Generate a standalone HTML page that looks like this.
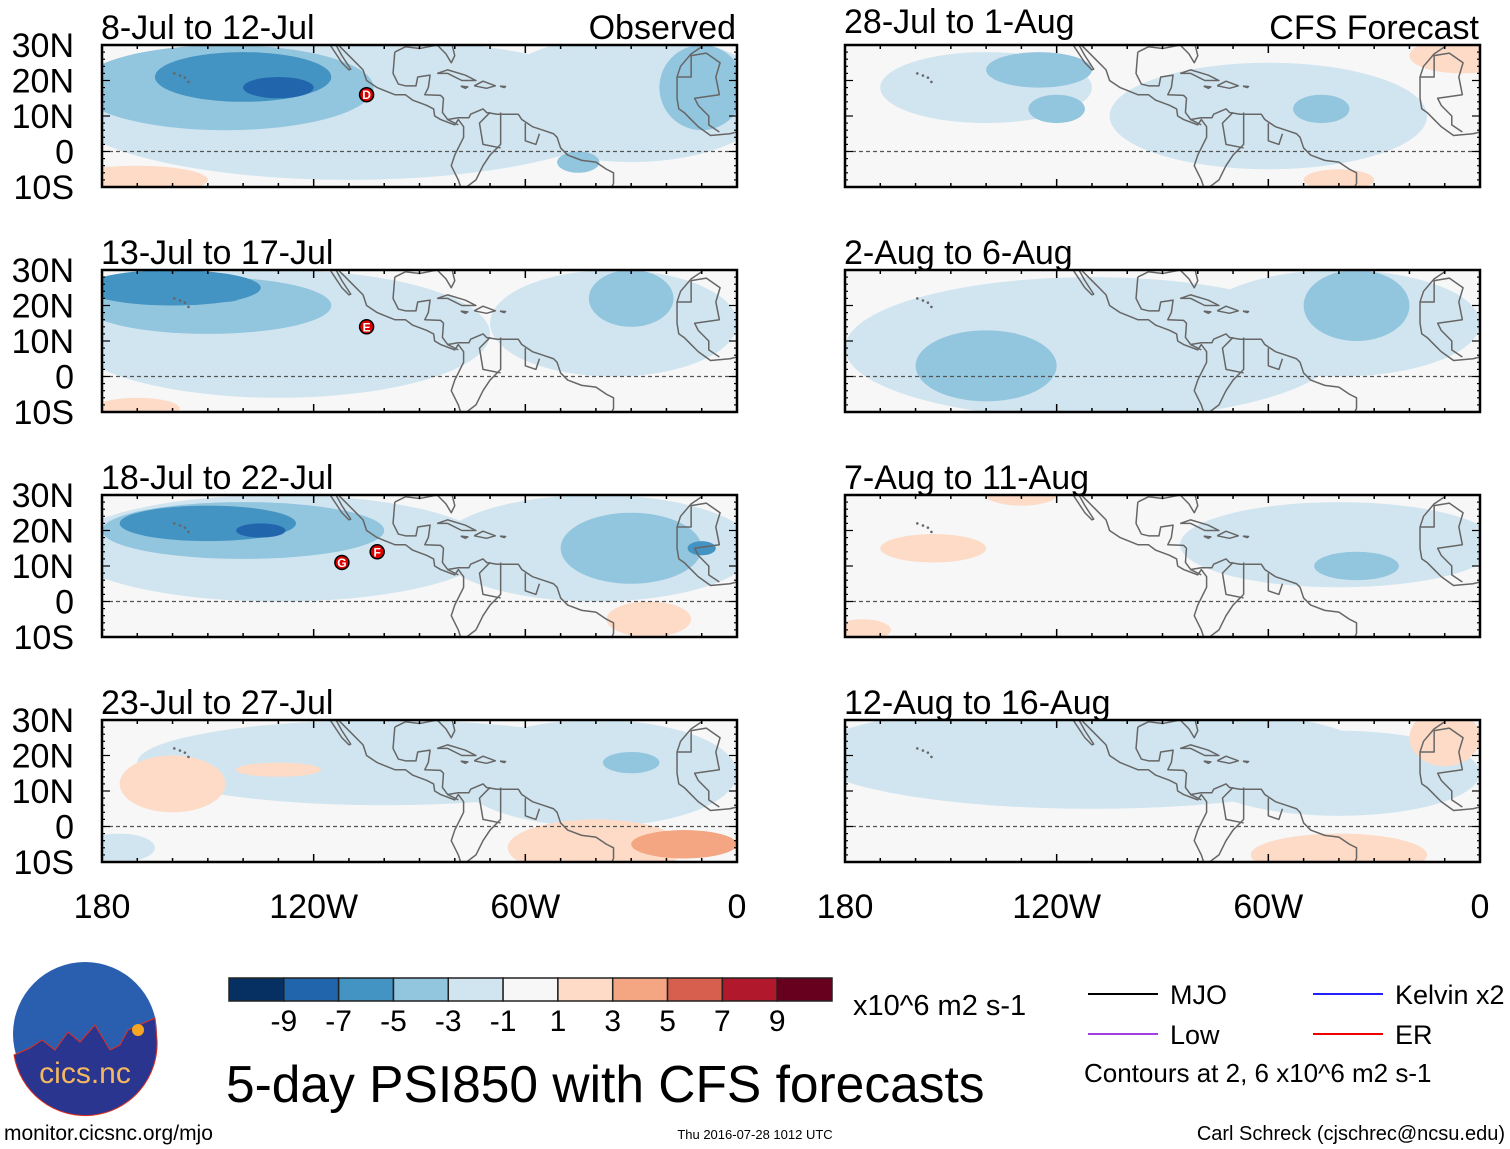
<!DOCTYPE html>
<html><head><meta charset="utf-8"><style>
html,body{margin:0;padding:0;background:#fff;}
svg{display:block;font-family:"Liberation Sans",sans-serif;}
</style></head><body>
<svg id="chart" width="1510" height="1149" viewBox="0 0 1510 1149" xmlns="http://www.w3.org/2000/svg">
<g id="panels"></g>
<g id="legend"></g>
</svg>
<script>
// ----- data -----
const panelTitles = ["8-Jul to 12-Jul","28-Jul to 1-Aug","13-Jul to 17-Jul","2-Aug to 6-Aug","18-Jul to 22-Jul","7-Aug to 11-Aug","23-Jul to 27-Jul","12-Aug to 16-Aug"];
// anomaly blobs: [lon, lat, rxDeg, ryDeg, level]
const blobs0 = [[-110,12,80,20,-2],[-30,15,40,18,-2],[-145,18,42,12,-4],[-140,21,25,7,-6],[-130,18,10,3,-8],[-10,18,12,12,-4],[-170,-8,20,4,2],[-45,-3,6,3,-4]];
const blobs1 = [[-140,18,30,10,-2],[-60,10,45,15,-2],[-125,23,15,5,-4],[-120,12,8,4,-4],[-45,12,8,4,-4],[-5,27,15,5,2],[-40,-8,10,3,2]];
const blobs2 = [[-130,12,60,18,-2],[-35,15,35,15,-2],[-150,20,35,8,-4],[-160,25,25,5,-6],[-145,23,5,2,-6],[-30,22,12,8,-4],[-170,-9,12,3,2]];
const blobs3 = [[-110,8,70,20,-2],[-40,15,40,15,-2],[-140,3,20,10,-4],[-35,20,15,10,-4]];
const blobs4 = [[-130,15,60,15,-2],[-40,15,45,15,-2],[-140,20,40,8,-4],[-150,22,25,5,-6],[-135,20,7,2,-8],[-30,15,20,10,-4],[-25,-5,12,5,2],[-10,15,4,2,-6]];
const blobs5 = [[-40,16,45,12,-2],[-35,10,12,4,-4],[-155,15,15,4,2],[-130,30,10,3,2],[-175,-8,8,3,2]];
const blobs6 = [[-100,18,70,12,-2],[-40,15,40,15,-2],[-160,12,15,8,2],[-130,16,12,2,2],[-40,-6,25,8,2],[-15,-5,15,4,4],[-30,18,8,3,-4],[-175,-6,10,4,-2]];
const blobs7 = [[-110,20,80,15,-2],[-40,15,40,12,-2],[-40,-8,25,6,2],[-10,25,10,8,2]];
const allBlobs = [blobs0,blobs1,blobs2,blobs3,blobs4,blobs5,blobs6,blobs7];
// storm markers
const stormPanels = [0,2,4,4];
const stormLons = [-105,-105,-102,-112];
const stormLats = [16,14,14,11];
const stormLetters = ["D","E","F","G"];
const latTicks = ["30N","20N","10N","0","10S"];
const latVals = [30,20,10,0,-10];
const lonTicks = ["180","120W","60W","0"];
const lonVals = [-180,-120,-60,0];
const cbLabels = ["-9","-7","-5","-3","-1","1","3","5","7","9"];
const cbColors = ["#053061","#2166ac","#4393c3","#92c5de","#d1e5f0","#f7f7f7","#fddbc7","#f4a582","#d6604d","#b2182b","#67001f"];
const levelColor = {"-8":"#2166ac","-6":"#4393c3","-4":"#92c5de","-2":"#d1e5f0","2":"#fddbc7","4":"#f4a582","6":"#d6604d"};
const coasts = [
 [[-118,34],[-117,32.5],[-114,28],[-112,25],[-110,23],[-109.5,23.2],[-112,27],[-114.5,31.5],[-112,29],[-109,26],[-106,23],[-105,20],[-102,18],[-97,16],[-94,16],[-92,14.5],[-88,13],[-86,12],[-85.7,10],[-84,9],[-80,7.5],[-79,9],[-77.5,7],[-77.5,4],[-79,1],[-80,-1],[-81,-4],[-80,-6],[-79,-8],[-78,-11]],
 [[-97,28],[-97.5,22],[-96,19],[-94,18.5],[-91,18.5],[-90.5,21],[-87,21.5],[-87.5,18],[-88.5,16],[-84,15.8],[-83.2,15],[-83.5,11],[-82,9],[-79,9.5],[-76,9.5],[-75.5,10.5],[-72,12],[-71,11],[-68,10.5],[-64,10.5],[-62,10.5],[-61,9],[-58,7],[-55,6],[-52,5],[-51,4],[-50,1],[-48,-1],[-44,-2.5],[-40,-3],[-37,-5],[-35,-6],[-35,-9],[-36,-11]],
 [[-97,28],[-94,29.5],[-90,29],[-85,30],[-82.5,27.5],[-81,25],[-80,27],[-81,31],[-77,35]],
 [[-85,22],[-82,23],[-77,21.5],[-74,20],[-78,20],[-82,22],[-85,22]],
 [[-74.5,18.5],[-72,19.8],[-68.5,18.5],[-71,17.8],[-74.5,18.5]],
 [[-78.3,18.4],[-76.3,18.2],[-77,17.8],[-78.3,18.4]],
 [[-67.2,18.4],[-65.6,18.3],[-66,18],[-67.2,18.4]],
 [[-9,32],[-10,29.5],[-13,27.5],[-16,24],[-17,21],[-17,15],[-16.5,12],[-15,11],[-13,9],[-11,7],[-7.5,4.5],[-2,5],[0,5.5]],
 [[-17,21],[-13,21],[-13,27],[-8.7,27.7],[-4.8,25],[-6,21],[-5,16],[-12,15],[-11,13],[-8,10],[-8,7.5],[-5,5.5]],
 [[-67,11],[-67,2],[-70,-1],[-72,-4],[-74,-8],[-78,-11]],
 [[-60,8],[-60,3],[-57,2],[-56,5]],
 [[-82,9],[-79,7.5]],
 [[-70,11],[-73,8],[-72,2],[-67,1]]
];
const hawaii = [[-155.5,19.6],[-156.5,20.8],[-157.9,21.4],[-159.5,22]];

const colX = [102,845], rowY = [45,270,495,720], PW = 635, PH = 142;
const NS = "http://www.w3.org/2000/svg";
function mk(tag, attrs, parent){const e=document.createElementNS(NS,tag);for(const k in attrs)e.setAttribute(k,attrs[k]);if(parent)parent.appendChild(e);return e;}
const root = document.getElementById('panels');

for (let p=0;p<8;p++){
  const x0 = colX[p%2], y0 = rowY[Math.floor(p/2)];
  const xs = lon => x0 + (lon+180)/180*PW;
  const ys = lat => y0 + (30-lat)/40*PH;
  const g = mk('g',{},root);
  
  
  const cid='clip'+p;
  const cp = mk('clipPath',{id:cid},g); mk('rect',{x:x0,y:y0,width:PW,height:PH},cp);
  const inner = mk('g',{'clip-path':'url(#'+cid+')'},g);
  mk('rect',{x:x0,y:y0,width:PW,height:PH,fill:'#f7f7f7'},inner);
  const bl = allBlobs[p].slice().sort((a,b)=>Math.abs(a[4])-Math.abs(b[4]));
  bl.forEach(b=>{
    const e = mk('ellipse',{cx:xs(b[0]),cy:ys(b[1]),rx:b[2]/180*PW,ry:b[3]/40*PH,fill:levelColor[String(b[4])]},inner);
    
    
  });
  const eq = mk('line',{x1:x0,x2:x0+PW,y1:ys(0),y2:ys(0),stroke:'#555','stroke-dasharray':'4,3','stroke-width':1.2},inner);
  
  
  coasts.forEach(c=>{
    const pl = mk('polyline',{points:c.map(q=>xs(q[0])+','+ys(q[1])).join(' '),fill:'none',stroke:'#666','stroke-width':1.5,'stroke-linejoin':'round'},inner);
    
    
  });
  hawaii.forEach(h=>{ mk('circle',{cx:xs(h[0]),cy:ys(h[1]),r:1.3,fill:'#666'},inner); });
  const fr = mk('rect',{x:x0,y:y0,width:PW,height:PH,fill:'none',stroke:'#000','stroke-width':2.5},g);
  
  
  for(let lon=-180;lon<=0;lon+=10){
    const big = lon%60===0?8:4;
    mk('line',{x1:xs(lon),x2:xs(lon),y1:y0,y2:y0+big,stroke:'#000','stroke-width':1.5},g);
    mk('line',{x1:xs(lon),x2:xs(lon),y1:y0+PH,y2:y0+PH-big,stroke:'#000','stroke-width':1.5},g);
  }
  for(let lat=-10;lat<=30;lat+=2){
    const big = lat%10===0?8:3;
    mk('line',{x1:x0,x2:x0+big,y1:ys(lat),y2:ys(lat),stroke:'#000','stroke-width':1.2},g);
    mk('line',{x1:x0+PW,x2:x0+PW-big,y1:ys(lat),y2:ys(lat),stroke:'#000','stroke-width':1.2},g);
  }
  const ty = (p===1) ? y0-12 : y0-6;
  const t = mk('text',{x:x0-1,y:ty,'font-size':34},g); t.textContent = panelTitles[p];
  
  
  if(p===0){const o=mk('text',{x:x0+PW-1,y:y0-6,'font-size':34,'text-anchor':'end'},g);o.textContent='Observed';
    
    }
  if(p===1){const o=mk('text',{x:x0+PW-1,y:y0-6,'font-size':34,'text-anchor':'end'},g);o.textContent='CFS Forecast';
    
    }
  if(p%2===0){
    latVals.forEach((lv,i)=>{const tt=mk('text',{x:74,y:ys(lv)+12,'font-size':34,'text-anchor':'end'},g);tt.textContent=latTicks[i];
      
      });
  }
  if(p>=6){
    lonVals.forEach((lv,i)=>{const tt=mk('text',{x:xs(lv),y:918,'font-size':34,'text-anchor':'middle'},g);tt.textContent=lonTicks[i];
      
      });
  }
  stormPanels.forEach((sp,i)=>{
    if(sp!==p) return;
    const sg = mk('g',{},g);
    
    
    mk('circle',{cx:xs(stormLons[i]),cy:ys(stormLats[i]),r:7,fill:'#d00',stroke:'#000','stroke-width':1.5},sg);
    const st=mk('text',{x:xs(stormLons[i]),y:ys(stormLats[i])+4.5,'font-size':12,'font-weight':'bold',fill:'#fff','text-anchor':'middle'},sg);
    st.textContent=stormLetters[i];
  });
}

const lg = document.getElementById('legend');
const cbx=229, cby=978, cbw=603/11, cbh=23;
cbColors.forEach((c,i)=>{const r=mk('rect',{x:cbx+i*cbw,y:cby,width:cbw,height:cbh,fill:c,stroke:'#222','stroke-width':1.5},lg);
  
  });
cbLabels.forEach((l,i)=>{const t=mk('text',{x:cbx+(i+1)*cbw,y:1031,'font-size':30,'text-anchor':'middle'},lg);t.textContent=l;
  
  });
function txt(x,y,s,str,name,anchor){const t=mk('text',{x:x,y:y,'font-size':s,'text-anchor':anchor||'start'},lg);t.textContent=str;
  return t;}
txt(853,1015,29,'x10^6 m2 s-1','colorbar-units');
txt(226,1102,51.5,'5-day PSI850 with CFS forecasts','main-title');
txt(4,1140,21,'monitor.cicsnc.org/mjo','source-url');
txt(755,1139,13,'Thu 2016-07-28 1012 UTC','timestamp','middle');
txt(1505,1140,20,'Carl Schreck (cjschrec@ncsu.edu)','author-credit','end');
const legItems=[[1088,994,'#000','MJO','legend-mjo'],[1313,994,'#22f','Kelvin x2','legend-kelvin'],[1088,1034,'#a040e0','Low','legend-low'],[1313,1034,'#e00','ER','legend-er']];
legItems.forEach(it=>{
  const l=mk('line',{x1:it[0],x2:it[0]+70,y1:it[1],y2:it[1],stroke:it[2],'stroke-width':2},lg);
  
  
  txt(it[0]+82,it[1]+10,27,it[3],it[4]);
});
txt(1084,1082,26,'Contours at 2, 6 x10^6 m2 s-1','contour-note');
const logo=mk('g',{},lg);


mk('circle',{cx:85,cy:1034,r:72,fill:'#2a5fb0'},logo);
mk('path',{d:'M14,1055 L30,1048 L42,1040 L55,1050 L68,1032 L80,1042 L95,1025 L110,1050 L120,1045 L128,1030 L155,1018 L157,1040 A72,72 0 0 1 14,1055 Z',fill:'#2a3590',stroke:'#e03020','stroke-width':1},logo);
mk('circle',{cx:138,cy:1030,r:6,fill:'#f5a623'},logo);
const lt=mk('text',{x:85,y:1083,'font-size':30,fill:'#f5b860','text-anchor':'middle'},logo);lt.textContent='cics.nc';
</script>
</body></html>
